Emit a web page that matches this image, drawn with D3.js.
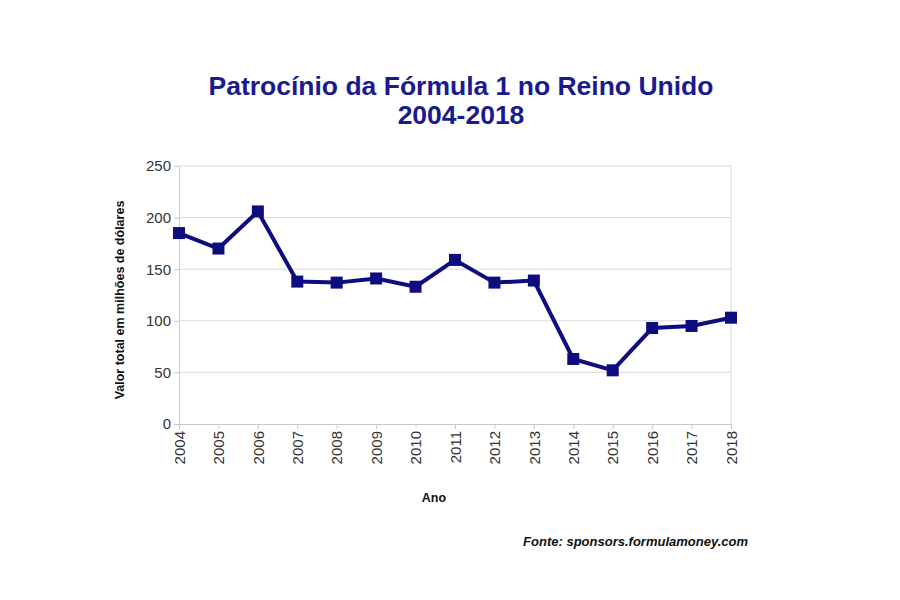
<!DOCTYPE html>
<html>
<head>
<meta charset="utf-8">
<script src="https://cdn.jsdelivr.net/npm/d3@7"></script>
<style>
  body { margin: 0; background: #fff; }
  svg { font-family: "Liberation Sans", Arial, sans-serif; }
</style>
</head>
<body>
<svg id="line-chart" width="900" height="600"></svg>
<script>
// Years and sponsorship values (millions of dollars)
const years = [2004, 2005, 2006, 2007, 2008, 2009, 2010, 2011, 2012, 2013, 2014, 2015, 2016, 2017, 2018];
const values = [185, 170, 206, 138, 137, 141, 133, 159, 137, 139, 63, 52, 93, 95, 103];
const yTicks = [0, 50, 100, 150, 200, 250];

const data = years.map((y, i) => ({ year: y, value: values[i] }));

let margin = {top: 166, right: 169, bottom: 176, left: 179};
let width = 900 - margin.left - margin.right;
let height = 600 - margin.top - margin.bottom;

let svg = d3.select("#line-chart");
svg.append("rect").attr("width", 900).attr("height", 600).attr("fill", "#fff");

let g = svg.append("g")
  .attr("transform", `translate(${margin.left}, ${margin.top})`);

let xScale = d3.scalePoint()
  .domain(years)
  .range([0, width]);

let yScale = d3.scaleLinear()
  .domain([0, 250])
  .range([height, 0]);

// Gridlines
g.selectAll(".grid")
  .data(yTicks.slice(1))
  .enter().append("line")
  .attr("class", "grid")
  .attr("x1", 0).attr("x2", width)
  .attr("y1", d => yScale(d)).attr("y2", d => yScale(d))
  .attr("stroke", "#d9d9d9")
  .attr("stroke-width", 1);

// Right border of plot
g.append("line")
  .attr("x1", width).attr("x2", width)
  .attr("y1", 0).attr("y2", height)
  .attr("stroke", "#d9d9d9");

// Axes
let xAxis = g.append("g")
  .attr("transform", `translate(0, ${height})`)
  .call(d3.axisBottom(xScale).tickSize(5).tickSizeOuter(0));
xAxis.select(".domain").attr("stroke", "#c8c8c8");
xAxis.selectAll(".tick line").attr("stroke", "#c8c8c8");
xAxis.selectAll("text")
  .attr("transform", "rotate(-90)")
  .attr("text-anchor", "end")
  .attr("x", -7)
  .attr("y", 0)
  .attr("dy", "0.35em")
  .attr("fill", "#333")
  .style("font-size", "15px")
  .style("font-family", "Liberation Sans, Arial, sans-serif");

let yAxis = g.append("g")
  .call(d3.axisLeft(yScale).tickValues(yTicks).tickSize(5).tickSizeOuter(0));
yAxis.select(".domain").attr("stroke", "#c8c8c8");
yAxis.selectAll(".tick line").attr("stroke", "#c8c8c8");
yAxis.selectAll("text")
  .attr("x", -8)
  .attr("fill", "#333")
  .style("font-size", "15px")
  .style("font-family", "Liberation Sans, Arial, sans-serif");

// Line
let line = d3.line()
  .x(d => xScale(d.year))
  .y(d => yScale(d.value));

g.append("path")
  .datum(data)
  .attr("fill", "none")
  .attr("stroke", "#0d0d80")
  .attr("stroke-width", 4)
  .attr("stroke-linejoin", "round")
  .attr("d", line);

// Square markers
g.selectAll(".marker")
  .data(data)
  .enter().append("rect")
  .attr("class", "marker")
  .attr("x", d => xScale(d.year) - 6)
  .attr("y", d => yScale(d.value) - 6)
  .attr("width", 12)
  .attr("height", 12)
  .attr("fill", "#0d0d80");

// Title
svg.append("text")
  .attr("x", 461).attr("y", 95)
  .attr("text-anchor", "middle")
  .attr("fill", "#1a1a90")
  .style("font-size", "26.5px")
  .style("font-weight", "bold")
  .text("Patrocínio da Fórmula 1 no Reino Unido");
svg.append("text")
  .attr("x", 461).attr("y", 124)
  .attr("text-anchor", "middle")
  .attr("fill", "#1a1a90")
  .style("font-size", "26.5px")
  .style("font-weight", "bold")
  .text("2004-2018");

// Axis titles
svg.append("text")
  .attr("transform", "translate(124, 300) rotate(-90)")
  .attr("text-anchor", "middle")
  .attr("fill", "#111")
  .style("font-size", "12.5px")
  .style("font-weight", "bold")
  .text("Valor total em milhões de dólares");

svg.append("text")
  .attr("x", 434).attr("y", 502)
  .attr("text-anchor", "middle")
  .attr("fill", "#111")
  .style("font-size", "12.5px")
  .style("font-weight", "bold")
  .text("Ano");

// Source
svg.append("text")
  .attr("x", 748).attr("y", 546)
  .attr("text-anchor", "end")
  .attr("fill", "#111")
  .style("font-size", "13px")
  .style("font-weight", "bold")
  .style("font-style", "italic")
  .text("Fonte: sponsors.formulamoney.com");
</script>
</body>
</html>
